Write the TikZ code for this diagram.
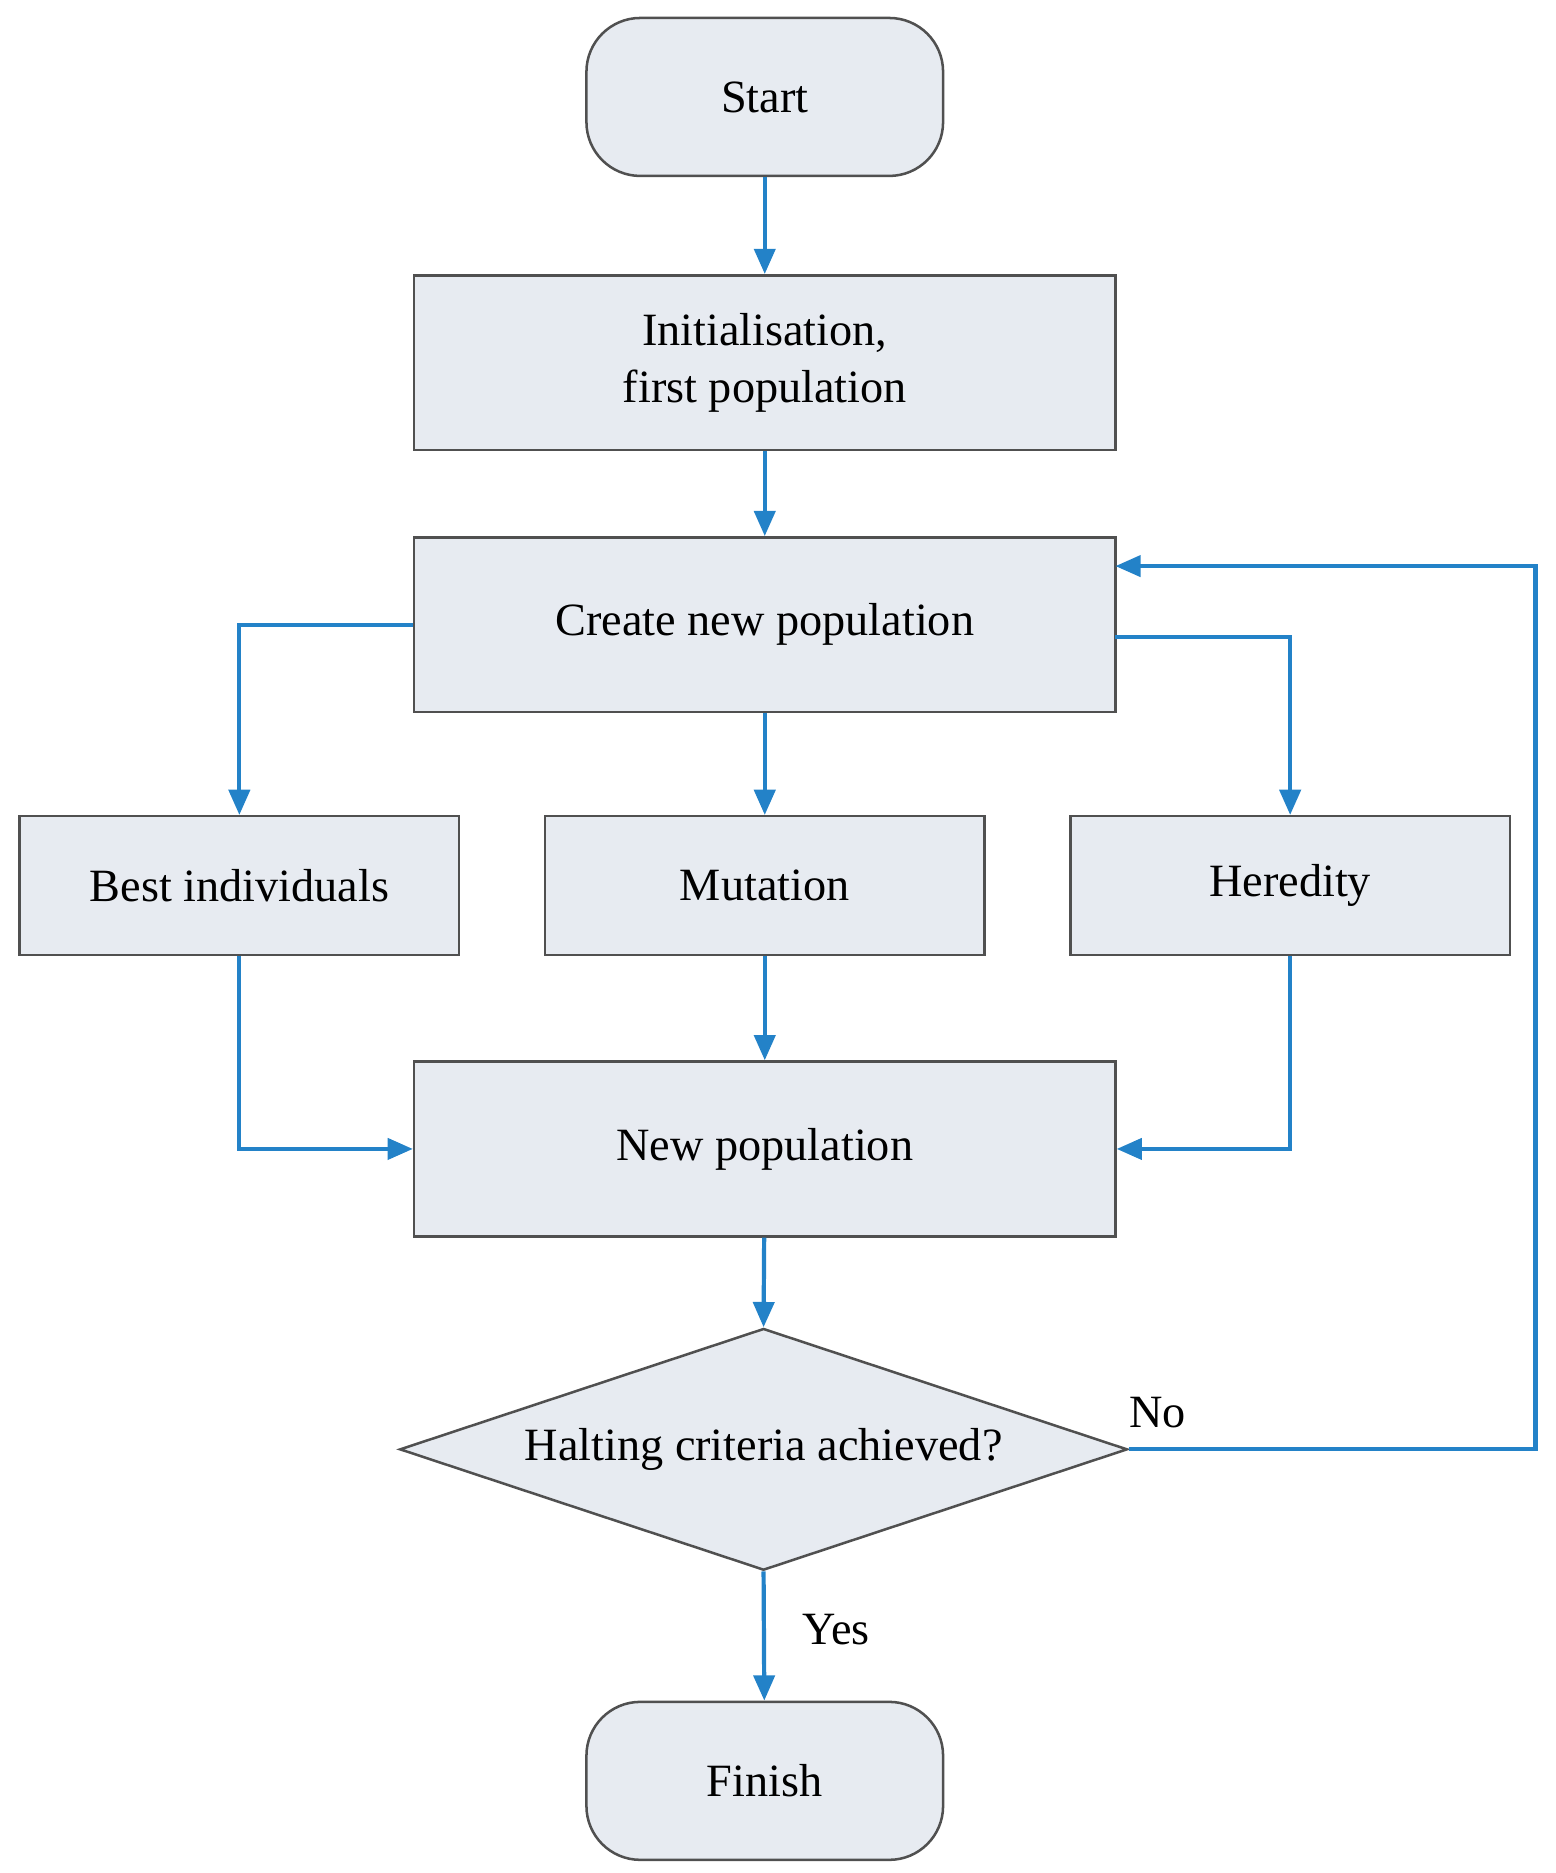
\documentclass[tikz,border=0pt]{standalone}
\usepackage{fontspec}
\setmainfont{Liberation Serif}
\usetikzlibrary{shapes.geometric,arrows.meta}
\definecolor{boxfill}{RGB}{231,235,241}
\definecolor{boxline}{RGB}{80,80,80}
\definecolor{arr}{RGB}{35,130,200}
\begin{document}
\begin{tikzpicture}[x=0.02cm,y=-0.02cm,
  box/.style={draw=boxline,fill=boxfill,line width=1.2pt,minimum width=586*0.02cm,minimum height=146*0.02cm,inner sep=0pt,font=\fontsize{22}{27}\selectfont,align=center},
  sbox/.style={box,minimum width=367*0.02cm,minimum height=116*0.02cm},
  term/.style={box,rounded corners=0.9cm,minimum width=298*0.02cm,minimum height=132*0.02cm},
  dia/.style={draw=boxline,fill=boxfill,line width=1.2pt,diamond,aspect=3,inner sep=0pt,minimum width=608*0.02cm,minimum height=202*0.02cm,font=\fontsize{22}{27}\selectfont},
  ar/.style={draw=arr,line width=2pt,-{Triangle[length=12pt,width=10pt]}},
  lab/.style={font=\fontsize{22}{27}\selectfont}]
\useasboundingbox (0,0) rectangle (1300,1565);
\node[term] (start) at (639,81) {Start};
\node[box] (init) at (639,303) {Initialisation,\\first population};
\node[box] (create) at (639,522) {Create new population};
\node[sbox] (best) at (200,740) {Best individuals};
\node[sbox] (mut) at (639,740) {Mutation};
\node[sbox] (her) at (1078,740) {Heredity};
\node[box] (newp) at (639,960) {New population};
\node[dia] (halt) at (638,1211) {Halting criteria achieved?};
\node[term] (fin) at (639,1488) {Finish};
\coordinate (cr) at (932,532);
\coordinate (crin) at (932,473);
\coordinate (back) at (1283,473);
\draw[ar] (start) -- (init);
\draw[ar] (init) -- (create);
\draw[ar] (create.west) -| (best.north);
\draw[ar] (create) -- (mut);
\draw[ar] (cr) -| (her.north);
\draw[ar] (best.south) |- (newp.west);
\draw[ar] (mut) -- (newp);
\draw[ar] (her.south) |- (newp.east);
\draw[ar] (newp) -- (halt.north);
\draw[ar] (halt.east) -| (back) -- (crin);
\draw[ar] (halt.south) -- node[lab,right=14pt,pos=0.45]{Yes} (fin);
\node[lab] at (967,1180) {No};
\end{tikzpicture}
\end{document}
